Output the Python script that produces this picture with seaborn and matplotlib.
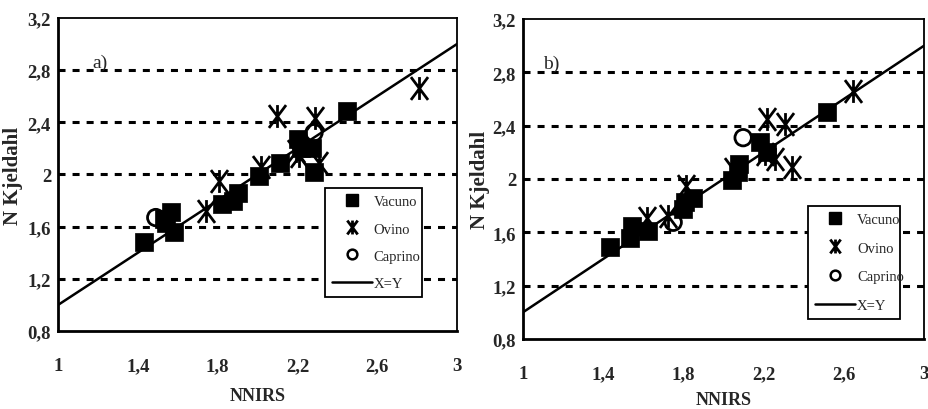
import matplotlib
matplotlib.use("Agg")
import matplotlib.pyplot as plt
import seaborn as sns
import pandas as pd
from matplotlib.lines import Line2D
from matplotlib.path import Path

# ---- data: panel a ----
a_vac_x = [1.43, 1.54, 1.567, 1.583, 1.53, 1.82, 1.875, 1.90, 2.008, 2.113, 2.203, 2.217, 2.275, 2.283, 2.447]
a_vac_y = [1.48, 1.63, 1.71, 1.56, 1.66, 1.775, 1.80, 1.86, 1.99, 2.09, 2.27, 2.20, 2.20, 2.02, 2.49]
a_ovi_x = [1.742, 1.808, 2.017, 2.10, 2.192, 2.208, 2.29, 2.308, 2.808]
a_ovi_y = [1.72, 1.95, 2.06, 2.45, 2.18, 2.14, 2.43, 2.09, 2.66]
a_cap_x = [1.49, 2.283]
a_cap_y = [1.67, 2.32]

# ---- data: panel b ----
b_vac_x = [1.433, 1.532, 1.544, 1.624, 1.799, 1.807, 1.849, 2.04, 2.073, 2.078, 2.18, 2.215, 2.514]
b_vac_y = [1.49, 1.56, 1.65, 1.61, 1.775, 1.825, 1.86, 1.99, 2.05, 2.11, 2.275, 2.20, 2.50]
b_ovi_x = [1.616, 1.724, 1.815, 2.048, 2.215, 2.256, 2.306, 2.34, 2.647, 2.205]
b_ovi_y = [1.71, 1.725, 1.95, 2.075, 2.45, 2.15, 2.41, 2.09, 2.66, 2.19]
b_cap_x = [1.749, 2.098]
b_cap_y = [1.675, 2.31]

line_xy = [1.0, 3.0]
xticks = [1, 1.4, 1.8, 2.2, 2.6, 3]
yticks = [0.8, 1.2, 1.6, 2.0, 2.4, 2.8, 3.2]
xticklabels = ["1", "1,4", "1,8", "2,2", "2,6", "3"]
yticklabels = ["0,8", "1,2", "1,6", "2", "2,4", "2,8", "3,2"]
species = ["Vacuno", "Ovino", "Caprino"]

sns.set_theme(style="white")
plt.rcParams['font.family'] = ['Liberation Serif', 'DejaVu Serif']

fig = plt.figure(figsize=(9.29, 4.10), dpi=100)
axa = fig.add_axes([0.0624, 0.190, 0.4296, 0.764])
axb = fig.add_axes([0.563, 0.171, 0.4316, 0.780])

# X with a vertical bar (Excel-style star marker)
STAR = Path([(-0.75, -1), (0.75, 1), (-0.75, 1), (0.75, -1), (0, -1), (0, 1)],
            [Path.MOVETO, Path.LINETO, Path.MOVETO, Path.LINETO, Path.MOVETO, Path.LINETO])

def panel(ax, vx, vy, ox, oy, cx, cy, label, lab_xy, leg_bbox, ylab_x, xlab_y, lspace):
    for yv in [1.2, 1.6, 2.0, 2.4, 2.8]:
        ax.axhline(yv, color="black", lw=2.2, ls=(0, (2.3, 2.3)), zorder=1)
    sns.lineplot(x=line_xy, y=line_xy, ax=ax, color="black", lw=1.8, zorder=2)
    dv = pd.DataFrame({"x": vx, "y": vy})
    do = pd.DataFrame({"x": ox, "y": oy})
    dc = pd.DataFrame({"x": cx, "y": cy})
    sns.scatterplot(data=dv, x="x", y="y", ax=ax, marker="s", s=150, color="black",
                    edgecolor="black", linewidth=0.5, zorder=3)
    sns.scatterplot(data=do, x="x", y="y", ax=ax, marker=STAR, s=270, color="black",
                    edgecolor="black", linewidth=2.0, zorder=3)
    sns.scatterplot(data=dc, x="x", y="y", ax=ax, marker="o", s=140, facecolor="none",
                    edgecolor="black", linewidth=2.0, zorder=3)
    ax.set_xlim(1, 3)
    ax.set_ylim(0.8, 3.2)
    ax.set_xticks(xticks)
    ax.set_xticklabels(xticklabels, fontsize=13.5, fontweight="bold")
    ax.set_yticks(yticks)
    ax.set_yticklabels(yticklabels, fontsize=13.5, fontweight="bold")
    ax.tick_params(axis="x", direction="out", length=8, width=1.5, color="black", pad=11)
    ax.tick_params(axis="y", direction="out", length=5, width=1.5, color="black", pad=0)
    ax.set_xlabel("NNIRS", fontsize=13, fontweight="bold")
    ax.set_ylabel("N Kjeldahl", fontsize=15, fontweight="bold")
    ax.yaxis.set_label_coords(ylab_x, 0.5)
    ax.xaxis.set_label_coords(0.5, xlab_y)
    for side in ["left", "bottom"]:
        ax.spines[side].set_linewidth(2.0)
        ax.spines[side].set_color("black")
    for side in ["top", "right"]:
        ax.spines[side].set_linewidth(1.3)
        ax.spines[side].set_color("black")
    ax.text(lab_xy[0], lab_xy[1], label, fontsize=14, va="center", ha="left")
    handles = [
        Line2D([], [], marker="s", color="black", ls="none", markersize=8),
        Line2D([], [], marker=STAR, color="black", ls="none", markersize=10, markeredgewidth=2.0),
        Line2D([], [], marker="o", color="black", markerfacecolor="none", ls="none",
               markersize=7, markeredgewidth=1.8),
        Line2D([], [], color="black", lw=1.8),
    ]
    leg = ax.legend(handles, species + ["X=Y"], loc="lower left", bbox_to_anchor=leg_bbox,
                    frameon=True, fancybox=False, fontsize=10.5, handlelength=2.7,
                    labelspacing=lspace, borderpad=0.5, handletextpad=0.15, mode="expand",
                    borderaxespad=0)
    leg.get_frame().set_edgecolor("black")
    leg.get_frame().set_linewidth(1.3)
    leg.get_frame().set_alpha(1)

panel(axa, a_vac_x, a_vac_y, a_ovi_x, a_ovi_y, a_cap_x, a_cap_y, "a)", (1.17, 2.86),
      (0.669, 0.109, 0.243, 0.361), -0.0877, -0.179, 0.95)
panel(axb, b_vac_x, b_vac_y, b_ovi_x, b_ovi_y, b_cap_x, b_cap_y, "b)", (1.10, 2.87),
      (0.711, 0.0625, 0.229, 0.357), -0.082, -0.1625, 1.05)

fig.savefig("out.png", dpi=100)
